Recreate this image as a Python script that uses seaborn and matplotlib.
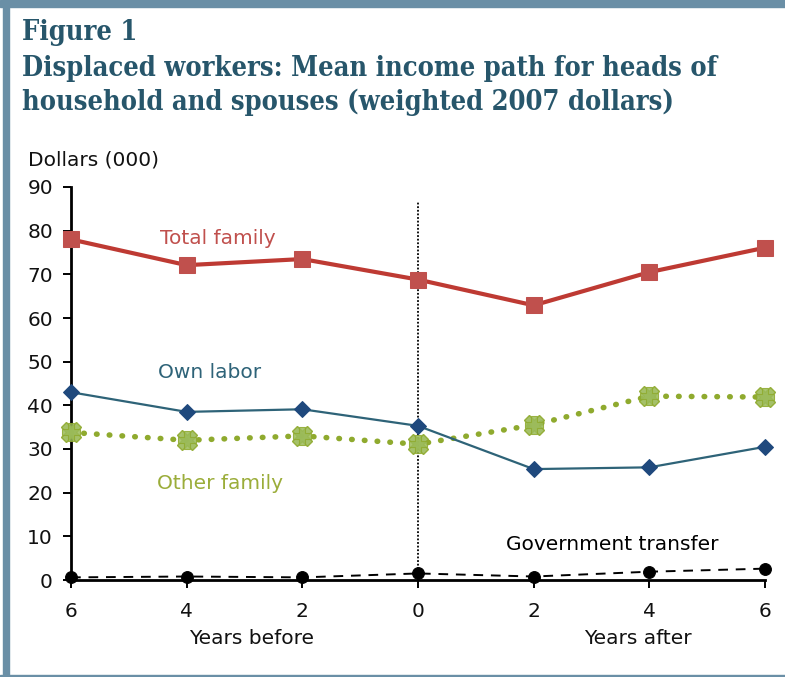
import matplotlib
matplotlib.use("Agg")
import matplotlib.pyplot as plt
from matplotlib.patches import Rectangle
import seaborn as sns
import pandas as pd

# Years relative to job displacement (negative = before, positive = after)
years = [-6, -4, -2, 0, 2, 4, 6]
year_labels = ["6", "4", "2", "0", "2", "4", "6"]

# Mean income, thousands of 2007 dollars
total_family = [78.0, 72.1, 73.5, 68.8, 62.9, 70.5, 76.1]
own_labor = [43.0, 38.5, 39.1, 35.3, 25.4, 25.8, 30.5]
other_family = [33.8, 32.0, 33.0, 31.1, 35.5, 42.1, 41.9]
gov_transfer = [0.6, 0.8, 0.6, 1.5, 0.8, 1.9, 2.6]

sns.set_theme(style="white")
plt.rcParams["font.family"] = ["DejaVu Sans"]

fig = plt.figure(figsize=(7.85, 6.77), dpi=100)
ax = fig.add_axes([71 / 785, 1 - 580 / 677, (765 - 71) / 785, (580 - 187) / 677])

df = pd.DataFrame({"year": years, "total": total_family, "own": own_labor,
                   "other": other_family, "gov": gov_transfer})

# Event line at displacement year
ax.plot([0, 0], [0, 86.5], color="black", lw=1.3, ls=(0, (1, 1)), zorder=1)

# Government transfer
sns.lineplot(data=df, x="year", y="gov", ax=ax, color="black", lw=1.4,
             linestyle=(0, (5, 4)), marker="o", markersize=8.5,
             markeredgecolor="black", zorder=3)

# Other family income
sns.lineplot(data=df, x="year", y="other", ax=ax, color="#8faa2e", lw=4.0,
             linestyle=(0, (0.1, 2.2)), dash_capstyle="round", zorder=3)
sns.lineplot(data=df, x="year", y="other", ax=ax, color="#9bbb59", lw=0,
             marker="X", markersize=14, markeredgecolor="#8faa2e",
             markeredgewidth=1.0, alpha=0.9, zorder=4)
sns.lineplot(data=df, x="year", y="other", ax=ax, color="#9bbb59", lw=0,
             marker="P", markersize=13, markeredgecolor="#8faa2e",
             markeredgewidth=0.8, alpha=0.85, zorder=4)

# Own labor income
sns.lineplot(data=df, x="year", y="own", ax=ax, color="#2e6378", lw=1.6,
             marker="D", markersize=8.5, markerfacecolor="#1f497d",
             markeredgecolor="#1f497d", zorder=5)

# Total family income
sns.lineplot(data=df, x="year", y="total", ax=ax, color="#be3a33", lw=3.0,
             marker="s", markersize=11, markerfacecolor="#c0504d",
             markeredgecolor="#c0504d", zorder=6)

ax.set_xlim(-6, 6)
ax.set_ylim(0, 90)
ax.set_xticks(years)
ax.set_xticklabels(year_labels)
ax.set_yticks(range(0, 91, 10))
ax.set_xlabel("")
ax.set_ylabel("")
for side in ["top", "right"]:
    ax.spines[side].set_visible(False)
for side in ["left", "bottom"]:
    ax.spines[side].set_color("black")
    ax.spines[side].set_linewidth(2.0)
ax.tick_params(axis="y", direction="out", length=6, width=1.4, color="black",
               labelsize=14.5, pad=7, left=True, labelcolor="#111111")
ax.tick_params(axis="x", direction="out", length=6, width=1.4, color="black",
               labelsize=14.5, pad=10, bottom=True, labelcolor="#111111")
ax.patch.set_alpha(0)
for ln in ax.lines:
    ln.set_clip_on(False)

# Series labels
lab = dict(fontsize=14.5, va="center")
ax.text(-4.46, 78.3, "Total family", color="#c0504d", **lab)
ax.text(-4.5, 47.6, "Own labor", color="#2e6378", **lab)
ax.text(-4.51, 22.2, "Other family", color="#9bad3a", **lab)
ax.text(1.52, 8.2, "Government transfer", color="black", **lab)

# Axis captions
fig.text(28 / 785, 1 - 160 / 677, "Dollars (000)", fontsize=14.5, va="center",
         color="#111111")
fig.text(252 / 785, 1 - 639 / 677, "Years before", fontsize=14.5, va="center",
         ha="center", color="#111111")
fig.text(638 / 785, 1 - 639 / 677, "Years after", fontsize=14.5, va="center",
         ha="center", color="#111111")

# Title block
title_color = "#27566b"
tkw = dict(fontfamily="DejaVu Serif", fontstretch="condensed", fontweight="bold",
           color=title_color, fontsize=19.5, va="center", ha="left")
fig.text(22 / 785, 1 - 33 / 677, "Figure 1", **tkw)
fig.text(22 / 785, 1 - 68 / 677,
         "Displaced workers: Mean income path for heads of", **tkw)
fig.text(22 / 785, 1 - 102 / 677,
         "household and spouses (weighted 2007 dollars)", **tkw)

# Frame bars
border = "#6a8fa6"
fig.patches.append(Rectangle((0, 1 - 7 / 677), 1, 7 / 677, transform=fig.transFigure,
                             color=border, zorder=0))
fig.patches.append(Rectangle((3 / 785, 0), 5.5 / 785, 1, transform=fig.transFigure,
                             color=border, zorder=0))
fig.patches.append(Rectangle((0, 0), 1, 2.5 / 677, transform=fig.transFigure,
                             color=border, zorder=0))

fig.savefig("out.png", dpi=100)
